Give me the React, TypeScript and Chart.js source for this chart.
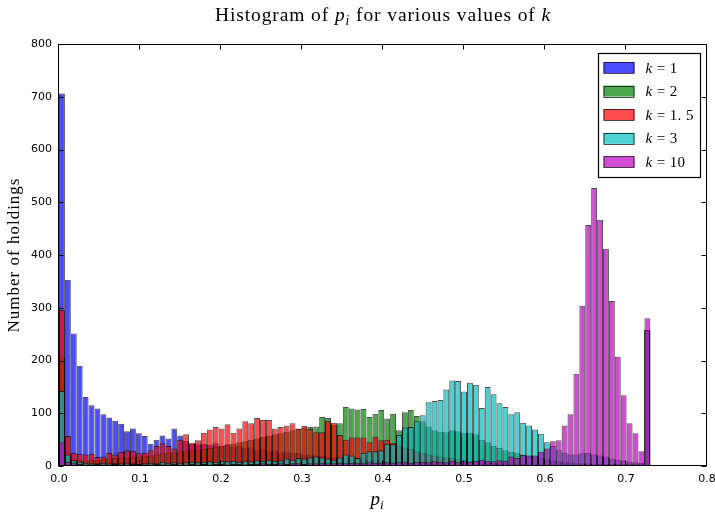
import React, { useEffect, useRef } from "react";
import { Chart, registerables } from "chart.js";

Chart.register(...registerables);

// Histogram bins: 100 bins of equal width starting at 0
const binStart = 0;
const binWidth = 0.0073;
const binCount = 100;

// Tick labels
const xTickValues = [0, 0.1, 0.2, 0.3, 0.4, 0.5, 0.6, 0.7, 0.8];
const yTickValues = [0, 100, 200, 300, 400, 500, 600, 700, 800];

// Legend labels (value of k)
const kLabels = ["1", "2", "1. 5", "3", "10"];

// Counts per bin for each series
const kOne = [
  706, 353, 251, 190, 131, 115, 109, 98, 92, 86,
  80, 66, 71, 62, 57, 42, 50, 58, 52, 71,
  58, 48, 42, 41, 42, 40, 43, 38, 41, 36,
  38, 34, 35, 31, 32, 28, 30, 26, 27, 24,
  25, 22, 22, 20, 19, 18, 17, 16, 15, 14,
  14, 13, 12, 12, 11, 10, 10, 9, 9, 8,
  8, 8, 7, 7, 7, 6, 6, 6, 6, 5,
  5, 5, 5, 5, 4, 4, 4, 4, 4, 4,
  4, 3, 3, 3, 3, 3, 3, 3, 3, 3,
  3, 3, 3, 3, 3, 3, 3, 3, 3, 258,
];

const kTwo = [
  205, 20, 12, 12, 10, 12, 12, 13, 14, 15,
  16, 15, 18, 18, 20, 20, 22, 24, 25, 26,
  28, 28, 30, 30, 32, 34, 36, 38, 40, 42,
  45, 47, 50, 52, 55, 58, 60, 62, 65, 68,
  70, 72, 74, 75, 93, 91, 78, 81, 112, 109,
  107, 108, 93, 99, 106, 90, 99, 68, 102, 106,
  95, 85, 75, 68, 65, 64, 68, 66, 62, 63,
  60, 50, 45, 38, 34, 30, 27, 25, 22, 20,
  18, 16, 14, 11, 9, 8, 7, 6, 5, 5,
  4, 4, 4, 4, 4, 4, 4, 4, 4, 258,
];

const kOneHalf = [
  296, 57, 25, 23, 22, 23, 17, 18, 25, 22,
  27, 30, 29, 24, 25, 30, 38, 43, 38, 33,
  50, 60, 44, 49, 63, 69, 74, 71, 79, 63,
  71, 85, 81, 91, 87, 87, 71, 74, 77, 81,
  71, 76, 70, 64, 64, 86, 82, 59, 50, 54,
  54, 54, 45, 56, 49, 50, 44, 38, 35, 32,
  28, 25, 22, 20, 18, 16, 15, 13, 12, 10,
  9, 8, 7, 6, 5, 5, 4, 4, 4, 4,
  3, 3, 3, 3, 3, 3, 3, 3, 3, 3,
  2, 2, 2, 2, 2, 2, 2, 2, 2, 258,
];

const kThree = [
  142, 22, 11, 8, 6, 5, 5, 6, 5, 5,
  5, 6, 5, 4, 5, 6, 5, 8, 6, 7,
  6, 7, 8, 7, 8, 9, 8, 10, 9, 10,
  8, 10, 9, 11, 10, 12, 10, 11, 14, 12,
  15, 14, 16, 18, 16, 14, 12, 16, 22, 20,
  15, 25, 28, 28, 30, 42, 41, 59, 73, 74,
  85, 96, 121, 123, 125, 145, 162, 161, 141, 158,
  154, 110, 150, 136, 119, 112, 98, 102, 82, 77,
  69, 61, 45, 38, 30, 25, 22, 22, 24, 25,
  22, 20, 18, 14, 12, 10, 8, 7, 6, 258,
];

const kTen = [
  45, 8, 5, 4, 3, 3, 4, 3, 3, 4,
  3, 3, 4, 3, 3, 3, 4, 3, 3, 4,
  3, 3, 4, 3, 4, 3, 4, 4, 3, 4,
  4, 3, 4, 4, 5, 4, 4, 5, 4, 5,
  5, 4, 5, 5, 6, 5, 5, 6, 5, 6,
  6, 5, 7, 6, 6, 7, 6, 7, 8, 6,
  7, 8, 7, 9, 8, 7, 10, 7, 9, 8,
  10, 12, 10, 9, 11, 10, 18, 15, 21, 20,
  20, 27, 33, 47, 49, 77, 98, 175, 304, 457,
  527, 467, 412, 313, 207, 134, 81, 62, 28, 280,
];

const seriesValues = [kOne, kTwo, kOneHalf, kThree, kTen];
const seriesFill = [
  "rgba(0,0,255,0.7)",
  "rgba(0,128,0,0.7)",
  "rgba(255,0,0,0.7)",
  "rgba(0,191,191,0.7)",
  "rgba(191,0,191,0.7)",
];

const SERIF = '"Liberation Serif", "DejaVu Serif", serif';
const SANS = '"DejaVu Sans", sans-serif';

type Seg = { t: string; it?: boolean; sub?: boolean };

function setFont(ctx: CanvasRenderingContext2D, s: Seg, size: number) {
  ctx.font = `${s.it ? "italic " : ""}${s.sub ? size * 0.7 : size}px ${SERIF}`;
}

function drawRich(
  ctx: CanvasRenderingContext2D,
  segs: Seg[],
  x: number,
  y: number,
  size: number,
  align: "left" | "center",
  spacing = 0
) {
  (ctx as any).letterSpacing = `${spacing}px`;
  let total = 0;
  for (const s of segs) {
    setFont(ctx, s, size);
    total += ctx.measureText(s.t).width;
  }
  let cx = align === "center" ? x - total / 2 : x;
  ctx.textAlign = "left";
  ctx.textBaseline = "alphabetic";
  for (const s of segs) {
    setFont(ctx, s, size);
    ctx.fillText(s.t, cx, s.sub ? y + size * 0.22 : y);
    cx += ctx.measureText(s.t).width;
  }
  (ctx as any).letterSpacing = "0px";
}

const decorPlugin = {
  id: "decor",
  afterDraw(chart: any) {
    const { ctx, chartArea: a, scales } = chart;
    const xs = scales.x;
    const ys = scales.y;
    ctx.save();
    ctx.strokeStyle = "#000";
    ctx.lineWidth = 1;
    const L = Math.round(a.left) - 0.5;
    const R = Math.round(a.right) - 0.5;
    const T = Math.round(a.top) + 0.5;
    const B = Math.round(a.bottom) - 0.5;
    // inner ticks
    ctx.beginPath();
    for (const v of xTickValues) {
      const px = Math.round(xs.getPixelForValue(v)) - 0.5;
      ctx.moveTo(px, B);
      ctx.lineTo(px, B - 5);
      ctx.moveTo(px, T);
      ctx.lineTo(px, T + 5);
    }
    for (const v of yTickValues) {
      const py = Math.round(ys.getPixelForValue(v)) + 0.5;
      ctx.moveTo(L, py);
      ctx.lineTo(L + 5, py);
      ctx.moveTo(R, py);
      ctx.lineTo(R - 5, py);
    }
    ctx.stroke();
    // frame
    ctx.strokeRect(L, T, R - L, B - T);

    // legend
    const lx = R - 108;
    const ly = T + 9;
    const lw = 102;
    const lh = 124;
    ctx.fillStyle = "#fff";
    ctx.fillRect(lx, ly, lw, lh);
    ctx.lineWidth = 1.2;
    ctx.strokeRect(lx, ly, lw, lh);
    ctx.lineWidth = 1;
    kLabels.forEach((lab, i) => {
      const cy = ly + 14 + i * 23.6;
      ctx.fillStyle = seriesFill[i];
      ctx.fillRect(lx + 5, cy - 5.5, 31, 11);
      ctx.strokeStyle = "rgba(0,0,0,0.7)";
      ctx.strokeRect(lx + 5.5, Math.round(cy - 5.5) + 0.5, 30, 11);
      ctx.fillStyle = "#000";
      drawRich(ctx, [{ t: "k", it: true }, { t: " = " + lab }], lx + 47, cy + 5, 15, "left", 0.4);
    });

    // title
    ctx.fillStyle = "#000";
    drawRich(
      ctx,
      [
        { t: "Histogram of " },
        { t: "p", it: true },
        { t: "i", it: true, sub: true },
        { t: " for various values of " },
        { t: "k", it: true },
      ],
      (a.left + a.right) / 2,
      21,
      19.5,
      "center",
      0.9
    );

    // x label
    drawRich(ctx, [{ t: "p", it: true }, { t: "i", it: true, sub: true }], (a.left + a.right) / 2 - 6, 505, 19, "center");

    // y label
    ctx.save();
    ctx.translate(19, (a.top + a.bottom) / 2);
    ctx.rotate(-Math.PI / 2);
    drawRich(ctx, [{ t: "Number of holdings" }], 0, 0, 17, "center", 1);
    ctx.restore();

    ctx.restore();
  },
};

export default function App() {
  const ref = useRef<HTMLCanvasElement | null>(null);
  useEffect(() => {
    if (!ref.current) return;
    const centers = Array.from({ length: binCount }, (_, i) => binStart + (i + 0.5) * binWidth);
    const datasets = seriesValues.map((vals, si) => ({
      label: "k=" + kLabels[si],
      data: vals.map((v, i) => ({ x: centers[i], y: v })),
      backgroundColor: seriesFill[si],
      borderColor: "rgba(0,0,0,0.7)",
      borderWidth: 1,
      borderSkipped: false as const,
      barPercentage: 1,
      categoryPercentage: 1,
      grouped: false,
      inflateAmount: 0,
      order: seriesValues.length - si,
    }));
    const chart = new Chart(ref.current, {
      type: "bar",
      data: { datasets },
      options: {
        animation: false,
        responsive: false,
        devicePixelRatio: 1,
        events: [],
        layout: { padding: { left: 0, top: 44, right: 8, bottom: 0 } },
        plugins: { legend: { display: false }, title: { display: false }, tooltip: { enabled: false } },
        scales: {
          x: {
            type: "linear",
            min: 0,
            max: 0.8,
            offset: false,
            grid: { display: false, offset: false, drawTicks: false },
            border: { display: false },
            afterBuildTicks: (s: any) => {
              s.ticks = xTickValues.map((v) => ({ value: v }));
            },
            afterFit: (s: any) => {
              s.height = 50;
              s.paddingLeft = 0;
              s.paddingRight = 0;
            },
            ticks: {
              autoSkip: false,
              maxRotation: 0,
              padding: 7,
              color: "#000",
              font: { family: SANS, size: 11 },
              callback: (v: any) => Number(v).toFixed(1),
            },
          },
          y: {
            type: "linear",
            min: 0,
            max: 800,
            grid: { display: false, drawTicks: false },
            border: { display: false },
            afterBuildTicks: (s: any) => {
              s.ticks = yTickValues.map((v) => ({ value: v }));
            },
            afterFit: (s: any) => {
              s.width = 59;
              s.paddingTop = 0;
              s.paddingBottom = 0;
            },
            ticks: {
              padding: 7,
              color: "#000",
              font: { family: SANS, size: 11 },
              callback: (v: any) => String(v),
            },
          },
        },
      },
      plugins: [decorPlugin],
    });
    return () => chart.destroy();
  }, []);
  return (
    <div style={{ position: "absolute", left: 0, top: 0, width: 715, height: 516, background: "#fff" }}>
      <canvas ref={ref} width={715} height={516} style={{ display: "block", width: 715, height: 516 }} />
    </div>
  );
}
